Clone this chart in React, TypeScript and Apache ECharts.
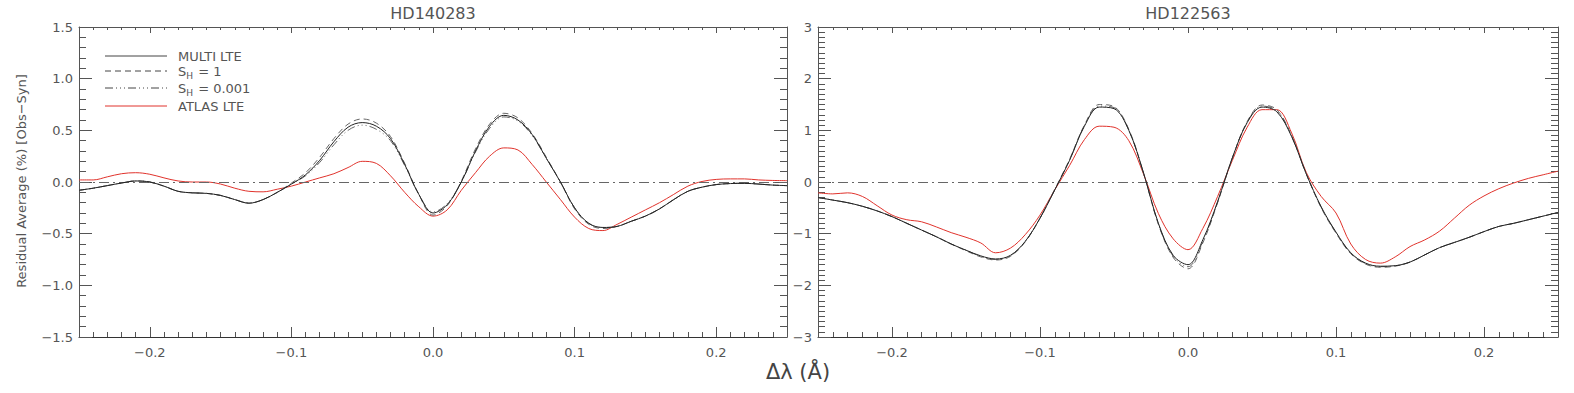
import React, { useEffect, useRef } from "react";
import * as echarts from "echarts";

// Wavelength offset grid (Å)
const X = [
  -0.25, -0.24, -0.23, -0.22, -0.21, -0.2, -0.19, -0.18, -0.17, -0.16, -0.15, -0.14, -0.13,
  -0.12, -0.11, -0.1, -0.09, -0.08, -0.07, -0.06, -0.05, -0.04, -0.03, -0.02, -0.01, 0.0,
  0.01, 0.02, 0.03, 0.04, 0.05, 0.06, 0.07, 0.08, 0.09, 0.1, 0.11, 0.12, 0.13, 0.14, 0.15,
  0.16, 0.17, 0.18, 0.19, 0.2, 0.21, 0.22, 0.23, 0.24, 0.25,
];

// HD140283
const L_MULTI = [
  -0.08, -0.06, -0.035, -0.01, 0.01, 0.0, -0.04, -0.09, -0.105, -0.11, -0.13, -0.17, -0.205,
  -0.17, -0.1, -0.02, 0.07, 0.21, 0.39, 0.53, 0.575, 0.54, 0.42, 0.17, -0.12, -0.3,
  -0.22, 0.0, 0.3, 0.54, 0.645, 0.6, 0.46, 0.23, 0.0, -0.25, -0.4, -0.44, -0.43, -0.38, -0.33,
  -0.26, -0.17, -0.09, -0.05, -0.025, -0.015, -0.013, -0.02, -0.03, -0.035,
];
const L_SH1 = [
  -0.08, -0.06, -0.035, -0.01, 0.01, 0.0, -0.04, -0.09, -0.105, -0.11, -0.13, -0.17, -0.205,
  -0.17, -0.1, -0.01, 0.09, 0.24, 0.42, 0.56, 0.61, 0.57, 0.44, 0.18, -0.12, -0.32,
  -0.23, 0.01, 0.32, 0.56, 0.665, 0.62, 0.47, 0.24, 0.0, -0.26, -0.41, -0.45, -0.43, -0.38, -0.33,
  -0.26, -0.17, -0.09, -0.05, -0.025, -0.015, -0.013, -0.02, -0.03, -0.035,
];
const L_SH0001 = [
  -0.08, -0.06, -0.035, -0.01, 0.01, 0.0, -0.04, -0.09, -0.105, -0.11, -0.13, -0.17, -0.205,
  -0.17, -0.1, -0.02, 0.06, 0.19, 0.36, 0.5, 0.55, 0.51, 0.4, 0.16, -0.12, -0.29,
  -0.21, 0.0, 0.29, 0.52, 0.63, 0.59, 0.45, 0.23, 0.0, -0.25, -0.4, -0.44, -0.43, -0.38, -0.33,
  -0.26, -0.17, -0.09, -0.05, -0.025, -0.015, -0.013, -0.02, -0.03, -0.035,
];
const L_ATLAS = [
  0.02, 0.02, 0.05, 0.08, 0.09, 0.075, 0.04, 0.01, 0.0, 0.0, -0.02, -0.06, -0.09,
  -0.095, -0.07, -0.04, 0.0, 0.04, 0.08, 0.14, 0.2, 0.18, 0.06, -0.1, -0.24, -0.33,
  -0.27, -0.08, 0.09, 0.25, 0.33, 0.31, 0.17, 0.0, -0.17, -0.34, -0.45, -0.47, -0.41, -0.34, -0.27,
  -0.2, -0.12, -0.04, 0.005, 0.025, 0.03, 0.03, 0.02, 0.015, 0.013,
];

// HD122563
const R_MULTI = [
  -0.3, -0.35, -0.4, -0.47, -0.56, -0.67, -0.8, -0.93, -1.06, -1.2, -1.32, -1.43, -1.49,
  -1.42, -1.15, -0.7, -0.15, 0.42, 1.08, 1.45, 1.42, 1.0, 0.17, -0.8, -1.42, -1.6,
  -1.12, -0.38, 0.47, 1.15, 1.45, 1.36, 0.88, 0.15, -0.48, -0.97, -1.37, -1.57, -1.63, -1.62, -1.55,
  -1.41, -1.27, -1.17, -1.07, -0.96, -0.86, -0.8, -0.73, -0.66, -0.59,
];
const R_SH1 = [
  -0.3, -0.35, -0.4, -0.47, -0.56, -0.67, -0.8, -0.93, -1.06, -1.2, -1.33, -1.45, -1.51,
  -1.44, -1.16, -0.7, -0.14, 0.44, 1.1, 1.5, 1.46, 1.02, 0.17, -0.82, -1.46, -1.68,
  -1.18, -0.4, 0.46, 1.17, 1.49, 1.4, 0.9, 0.15, -0.5, -0.99, -1.39, -1.59, -1.65, -1.63, -1.55,
  -1.41, -1.27, -1.17, -1.07, -0.96, -0.86, -0.8, -0.73, -0.66, -0.59,
];
const R_SH0001 = [
  -0.3, -0.35, -0.4, -0.47, -0.56, -0.67, -0.8, -0.93, -1.06, -1.2, -1.32, -1.44, -1.5,
  -1.43, -1.15, -0.7, -0.15, 0.43, 1.09, 1.47, 1.44, 1.01, 0.17, -0.81, -1.44, -1.64,
  -1.15, -0.39, 0.47, 1.16, 1.47, 1.38, 0.89, 0.15, -0.49, -0.98, -1.38, -1.58, -1.64, -1.62, -1.55,
  -1.41, -1.27, -1.17, -1.07, -0.96, -0.86, -0.8, -0.73, -0.66, -0.59,
];
const R_ATLAS = [
  -0.21, -0.23, -0.21, -0.28, -0.46, -0.64, -0.73, -0.77, -0.87, -0.98, -1.07, -1.18, -1.37,
  -1.28, -1.02, -0.64, -0.15, 0.32, 0.82, 1.08, 1.06, 0.8, 0.15, -0.61, -1.1, -1.31,
  -0.9, -0.28, 0.42, 1.06, 1.4, 1.4, 0.95, 0.18, -0.28, -0.6, -1.2, -1.5, -1.57, -1.45, -1.25,
  -1.12, -0.95, -0.7, -0.45, -0.27, -0.13, -0.02, 0.07, 0.14, 0.21,
];

const TITLES = ["HD140283", "HD122563"];
const LEGEND = ["MULTI LTE", "S_H = 1", "S_H = 0.001", "ATLAS LTE"];
const Y_NAME = "Residual Average (%) [Obs\u2212Syn]";
const X_NAME = "\u0394\u03bb (\u00c5)";

const FONT = "DejaVu Sans, Liberation Sans, sans-serif";
const TXT = "#555";
const AX = "#555";
const RED = "#e0332c";
const C_SOLID = "#222";
const C_DASH = "#666";
const C_DOT = "#666";
const DASH = [6, 4];
const DASHDOT = [8, 3, 1, 3, 1, 3, 1, 3];

const pair = (ys: number[]) => X.map((x, i) => [x, ys[i]]);
const fmt = (v: number, d: number) => {
  const r = Math.round(v * 1000) / 1000;
  if (r === 0) return (0).toFixed(d);
  return (r < 0 ? "\u2212" : "") + Math.abs(r).toFixed(d);
};

export default function App() {
  const ref = useRef<HTMLDivElement>(null);
  useEffect(() => {
    if (!ref.current) return;
    const chart = echarts.init(ref.current, undefined, { renderer: "svg" });
    const grids = [
      { left: 79, top: 27, width: 708, height: 310 },
      { left: 818, top: 27, width: 740, height: 310 },
    ];
    const xAxes: any[] = [];
    const yAxes: any[] = [];
    const series: any[] = [];
    const yCfg = [
      { min: -1.5, max: 1.5, interval: 0.5, minor: 5, d: 1 },
      { min: -3, max: 3, interval: 1, minor: 10, d: 0 },
    ];
    const sets = [
      [L_MULTI, L_SH1, L_SH0001, L_ATLAS],
      [R_MULTI, R_SH1, R_SH0001, R_ATLAS],
    ];
    [0, 1].forEach((g) => {
      const base = {
        type: "value",
        gridIndex: g,
        min: -0.25,
        max: 0.25,
        splitLine: { show: false },
      };
      xAxes.push({
        ...base,
        position: "bottom",
        axisLine: { show: true, onZero: false, lineStyle: { color: "#333", width: 1 } },
        axisTick: { show: true, inside: true, length: 10, lineStyle: { color: AX } },
        axisLabel: {
          show: true,
          showMinLabel: false,
          showMaxLabel: false,
          margin: 9,
          color: TXT,
          fontSize: 13,
          fontFamily: FONT,
          formatter: (v: number) => fmt(v, 1),
        },
      });
      xAxes.push({
        ...base,
        position: "bottom",
        interval: 0.01,
        axisLine: { show: false, onZero: false },
        axisTick: { show: true, inside: true, length: 5, lineStyle: { color: AX } },
        axisLabel: { show: false },
      });
      xAxes.push({
        ...base,
        position: "top",
        axisLine: { show: true, onZero: false, lineStyle: { color: AX, width: 1 } },
        axisTick: { show: true, inside: true, length: 6, lineStyle: { color: AX } },
        axisLabel: { show: false },
      });
      xAxes.push({
        ...base,
        position: "top",
        interval: 0.01,
        axisLine: { show: false, onZero: false },
        axisTick: { show: true, inside: true, length: 3, lineStyle: { color: AX } },
        axisLabel: { show: false },
      });
      const yc = yCfg[g];
      const yb = {
        type: "value",
        gridIndex: g,
        min: yc.min,
        max: yc.max,
        interval: yc.interval,
        splitLine: { show: false },
        axisLine: { show: true, onZero: false, lineStyle: { color: AX, width: 1 } },
        axisTick: { show: true, inside: true, length: 13, lineStyle: { color: AX } },
        minorTick: { show: true, splitNumber: yc.minor, length: 7, lineStyle: { color: AX } },
        minorSplitLine: { show: false },
      };
      yAxes.push({
        ...yb,
        position: "left",
        axisLabel: {
          show: true,
          margin: 6,
          color: TXT,
          fontSize: 13,
          fontFamily: FONT,
          formatter: (v: number) => fmt(v, yc.d),
        },
      });
      yAxes.push({ ...yb, position: "right", axisLabel: { show: false } });

      const [m, s1, s2, a] = sets[g];
      const common = {
        type: "line",
        xAxisIndex: 4 * g,
        yAxisIndex: 2 * g,
        showSymbol: false,
        symbol: "none",
        smooth: 0.35,
        silent: true,
      };
      series.push({
        ...common,
        name: LEGEND[3] + g,
        data: pair(a),
        lineStyle: { color: RED, width: 1 },
        z: 3,
        markLine: {
          silent: true,
          symbol: "none",
          label: { show: false },
          lineStyle: { color: "#666", type: [10, 4, 2, 4], width: 1 },
          data: [{ yAxis: 0 }],
        },
      });
      series.push({
        ...common,
        name: LEGEND[1] + g,
        data: pair(s1),
        lineStyle: { color: C_DASH, width: 1, type: DASH },
        z: 4,
      });
      series.push({
        ...common,
        name: LEGEND[2] + g,
        data: pair(s2),
        lineStyle: { color: C_DOT, width: 1, type: DASHDOT },
        z: 4,
      });
      series.push({
        ...common,
        name: LEGEND[0] + g,
        data: pair(m),
        lineStyle: { color: C_SOLID, width: 1 },
        z: 5,
      });
    });

    const legendRows = [56, 71, 88, 106];
    const legendStyles = [
      { stroke: "#444", lineDash: null },
      { stroke: "#444", lineDash: DASH },
      { stroke: "#444", lineDash: DASHDOT },
      { stroke: RED, lineDash: null },
    ];
    const richBase = {
      a: { fontSize: 13, fontFamily: FONT, fill: TXT, lineHeight: 15 },
      b: { fontSize: 9, fontFamily: FONT, fill: TXT, lineHeight: 9, padding: [9, 1, 0, 0] },
    };
    const legendText = (t: string) => {
      if (t.startsWith("S_H")) {
        return "{a|S}{b|H}{a|" + t.slice(3) + "}";
      }
      return "{a|" + t + "}";
    };
    const graphic: any[] = [];
    LEGEND.forEach((t, i) => {
      graphic.push({
        type: "line",
        shape: { x1: 105, y1: legendRows[i], x2: 167, y2: legendRows[i] },
        style: { stroke: legendStyles[i].stroke, lineWidth: 1, lineDash: legendStyles[i].lineDash },
        silent: true,
      });
      graphic.push({
        type: "text",
        x: 178,
        y: legendRows[i],
        style: {
          text: legendText(t),
          rich: richBase,
          verticalAlign: "middle",
          align: "left",
        },
        silent: true,
      });
    });
    TITLES.forEach((t, i) => {
      const gr = grids[i];
      graphic.push({
        type: "text",
        x: gr.left + gr.width / 2,
        y: 13,
        style: {
          text: t,
          fontSize: 16,
          fontFamily: FONT,
          fill: TXT,
          align: "center",
          verticalAlign: "middle",
        },
        silent: true,
      });
    });
    graphic.push({
      type: "text",
      x: 21,
      y: 181,
      rotation: Math.PI / 2,
      style: {
        text: Y_NAME,
        fontSize: 13,
        fontFamily: FONT,
        fill: TXT,
        align: "center",
        verticalAlign: "middle",
      },
      silent: true,
    });
    graphic.push({
      type: "text",
      x: 798,
      y: 372,
      style: {
        text: X_NAME,
        fontSize: 21,
        fontFamily: FONT,
        fill: "#444",
        align: "center",
        verticalAlign: "middle",
      },
      silent: true,
    });

    chart.setOption({
      animation: false,
      backgroundColor: "#fff",
      grid: grids,
      xAxis: xAxes,
      yAxis: yAxes,
      series,
      graphic,
    });
    return () => chart.dispose();
  }, []);
  return (
    <div
      style={{ position: "fixed", left: 0, top: 0, width: 1574, height: 393, background: "#fff" }}
    >
      <div ref={ref} style={{ width: 1574, height: 393 }} />
    </div>
  );
}
